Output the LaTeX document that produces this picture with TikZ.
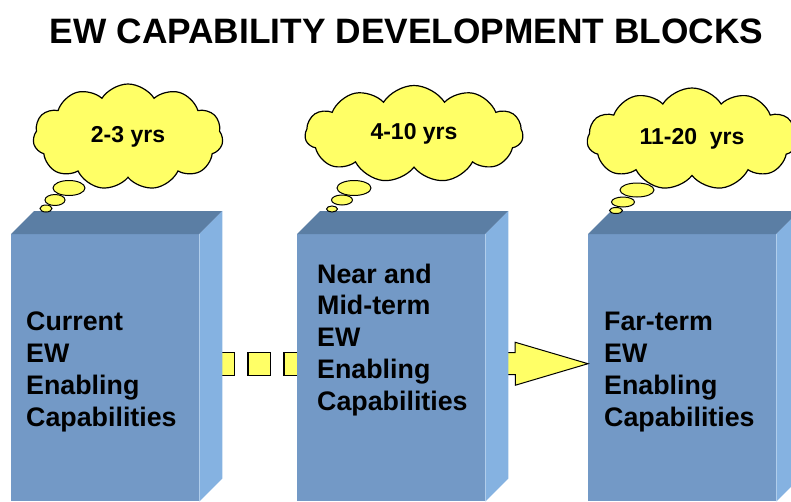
\documentclass[tikz,border=0pt]{standalone}
\usepackage{fontspec}
\setmainfont{Liberation Sans}
\usetikzlibrary{shapes.symbols,calc}

\definecolor{frontblue}{RGB}{115,153,198}
\definecolor{topblue}{RGB}{91,126,164}
\definecolor{sideblue}{RGB}{133,178,225}
\definecolor{thoughtyellow}{RGB}{255,255,102}

\begin{document}
\begin{tikzpicture}[x=1pt, y=-1pt,
  front/.style = {rectangle, fill=frontblue, minimum width=188pt, minimum height=267pt, anchor=north west, inner sep=0pt},
  topface/.style = {fill=topblue},
  sideface/.style = {fill=sideblue},
  boxtext/.style = {font=\fontsize{26.8}{31.7}\selectfont\bfseries, align=left, anchor=base west, inner sep=0pt},
  thought/.style = {cloud, cloud puffs=11, cloud puff arc=115, aspect=2, draw, fill=thoughtyellow, line width=1.2pt, font=\fontsize{23}{27}\selectfont\bfseries},
  bubble/.style = {draw, fill=thoughtyellow, line width=1pt},
  ]
  \useasboundingbox (0,0) rectangle (791,501);
  \node[font=\fontsize{35.3}{40}\selectfont\bfseries, anchor=base] (title) at (406.5,43) {EW CAPABILITY DEVELOPMENT BLOCKS};

  % front faces
  \node[front] (b1) at (11,234) {};
  \node[front] (b2) at (297,234) {};
  \node[front] (b3) at (588,234) {};

  % dashed connector
  \draw[line width=24pt, dash pattern=on 24pt off 12pt, dash phase=24pt]
    ($(b1.east)+(0,-4)$) -- ($(b2.west)+(0,-4)$);
  \draw[thoughtyellow, line width=21.6pt, dash pattern=on 21.6pt off 14.4pt, dash phase=22.8pt]
    ($(b1.east)+(0,-4)$) -- ($(b2.west)+(0,-4)$);

  % block arrow
  \draw[fill=thoughtyellow, line width=1pt] ($(b3.west)+(0,-4)$) -- ++(-73,-21.5) -- ++(0,10.5) -- ($(b2.east)+(6,-15)$)
    -- ++(0,22) -- ++(24,0) -- ++(0,10.5) -- cycle;

  % top and side faces
  \foreach \b in {b1,b2,b3} {
    \fill[topface] (\b.north west) -- ++(23,-23) -- ($(\b.north east)+(23,-23)$) -- (\b.north east) -- cycle;
    \fill[sideface] (\b.north east) -- ++(23,-23) -- ($(\b.south east)+(23,-23)$) -- (\b.south east) -- cycle;
  }

  \node[boxtext] (t1) at (26,426) {Current\\EW\\Enabling\\Capabilities};
  \node[boxtext] (t2) at (317,410) {Near and\\Mid-term\\EW\\Enabling\\Capabilities};
  \node[boxtext] (t3) at (604,426) {Far-term\\EW\\Enabling\\Capabilities};

  % thought clouds
  \node[thought, minimum width=190pt, minimum height=106pt] (c1) at (128,137) {2-3 yrs};
  \node[thought, minimum width=218pt, minimum height=97pt] (c2) at (414,134) {4-10 yrs};
  \node[thought, minimum width=210pt, minimum height=102pt] (c3) at (692,139) {11-20\ \ yrs};

  \draw[bubble] (69,188) ellipse (16 and 7.5);
  \draw[bubble] (55,200) ellipse (10 and 5.5);
  \draw[bubble] (46,208.5) ellipse (6 and 3.5);
  \draw[bubble] (354,188) ellipse (17 and 7.5);
  \draw[bubble] (342,200) ellipse (10.5 and 5);
  \draw[bubble] (332,209) ellipse (5.5 and 3);
  \draw[bubble] (637,190) ellipse (17 and 7);
  \draw[bubble] (623,202) ellipse (11.5 and 5);
  \draw[bubble] (616,210.5) ellipse (6.5 and 3);
\end{tikzpicture}
\end{document}
